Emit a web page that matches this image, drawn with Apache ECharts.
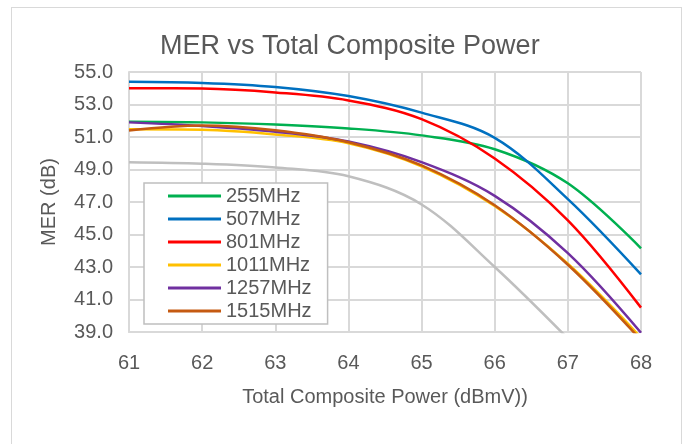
<!DOCTYPE html>
<html>
<head>
<meta charset="utf-8">
<script src="https://cdn.jsdelivr.net/npm/echarts@6/dist/echarts.min.js"></script>
<style>
html,body{margin:0;padding:0;background:#fff;}
#frame{position:absolute;left:11px;top:7px;width:671px;height:460px;border:1px solid #d9d9d9;box-sizing:border-box;}
#chart{position:absolute;left:0;top:0;width:691px;height:444px;}
</style>
</head>
<body>
<div id="frame"></div>
<div id="chart"></div>
<script>
const titleText = "MER vs Total Composite Power";
const xAxisName = "Total Composite Power (dBmV))";
const yAxisName = "MER (dB)";
const power = [61, 62, 63, 64, 65, 66, 67, 68];
const names = ["255MHz", "507MHz", "801MHz", "1011MHz", "1257MHz", "1515MHz"];
const mer255  = [51.94, 51.90, 51.77, 51.53, 51.10, 50.25, 48.15, 44.15];
const mer507  = [54.40, 54.33, 54.08, 53.52, 52.50, 50.95, 47.18, 42.55];
const mer801  = [54.00, 53.98, 53.74, 53.25, 52.10, 49.68, 45.87, 40.50];
const mer1011 = [51.48, 51.45, 51.16, 50.62, 49.20, 46.75, 43.20, 38.65];
const mer1257 = [51.90, 51.68, 51.33, 50.72, 49.45, 47.38, 43.85, 38.95];
const mer1515 = [51.40, 51.71, 51.42, 50.68, 49.25, 46.80, 43.14, 38.50];
const merGrey = [49.45, 49.36, 49.12, 48.58, 46.85, 43.00, 38.60];
const colors = ["#00B050", "#0070C0", "#FF0000", "#FFC000", "#7030A0", "#C55A11"];
const greyColor = "#BFBFBF";
const seriesValues = [mer255, mer507, mer801, mer1011, mer1257, mer1515];

function pairs(vals){ return vals.map((v,i)=>[power[i], v]); }

const chart = echarts.init(document.getElementById('chart'), null, {renderer:'canvas'});
const lineBase = {type: 'line', smooth: 0.35, showSymbol: false, symbol: 'none'};
const series = [Object.assign({}, lineBase, {
  name: 'grey', data: pairs(merGrey), lineStyle: {color: greyColor, width: 2.5}, itemStyle:{color:greyColor}, z: 1
})];
names.forEach((n,i)=>{
  series.push(Object.assign({}, lineBase, {
    name: n, data: pairs(seriesValues[i]),
    lineStyle: {color: colors[i], width: 2.5}, itemStyle: {color: colors[i]}, z: 2 + i
  }));
});
const txt = '#595959';
const gridColor = '#d9d9d9';
const ff = 'Liberation Sans, Arial, sans-serif';
chart.setOption({
  animation: false,
  textStyle: {fontFamily: ff},
  title: {text: titleText, left: 155, top: 28,
    textStyle: {fontSize: 27, fontWeight: 'normal', color: txt, fontFamily: ff}},
  legend: {
    data: names, orient: 'vertical', left: 144, top: 183,
    icon: 'rect', itemWidth: 53, itemHeight: 3, itemGap: 3,
    padding: [3, 16, 3, 24],
    borderColor: '#bfbfbf', borderWidth: 1.5, backgroundColor: '#fff',
    textStyle: {fontSize: 20, color: txt, fontFamily: ff},
    selectedMode: false
  },
  grid: {left: 129, right: 50, top: 72, bottom: 112, containLabel: false},
  xAxis: {
    type: 'value', min: 61, max: 68, interval: 1,
    name: xAxisName, nameLocation: 'middle', nameGap: 55,
    nameTextStyle: {fontSize: 20, color: txt},
    axisLine: {show: true, lineStyle: {color: gridColor, width: 2}},
    axisTick: {show: false},
    axisLabel: {fontSize: 20, color: txt, margin: 21},
    splitLine: {show: true, lineStyle: {color: gridColor, width: 2}}
  },
  yAxis: {
    type: 'value', min: 39, max: 55, interval: 2,
    name: yAxisName, nameLocation: 'middle', nameGap: 70,
    nameTextStyle: {fontSize: 20, color: txt},
    axisLine: {show: true, lineStyle: {color: gridColor, width: 2}},
    axisTick: {show: false},
    axisLabel: {fontSize: 20, color: txt, margin: 16, formatter: v => v.toFixed(1)},
    splitLine: {show: true, lineStyle: {color: gridColor, width: 2}}
  },
  series: series
});
</script>
</body>
</html>
